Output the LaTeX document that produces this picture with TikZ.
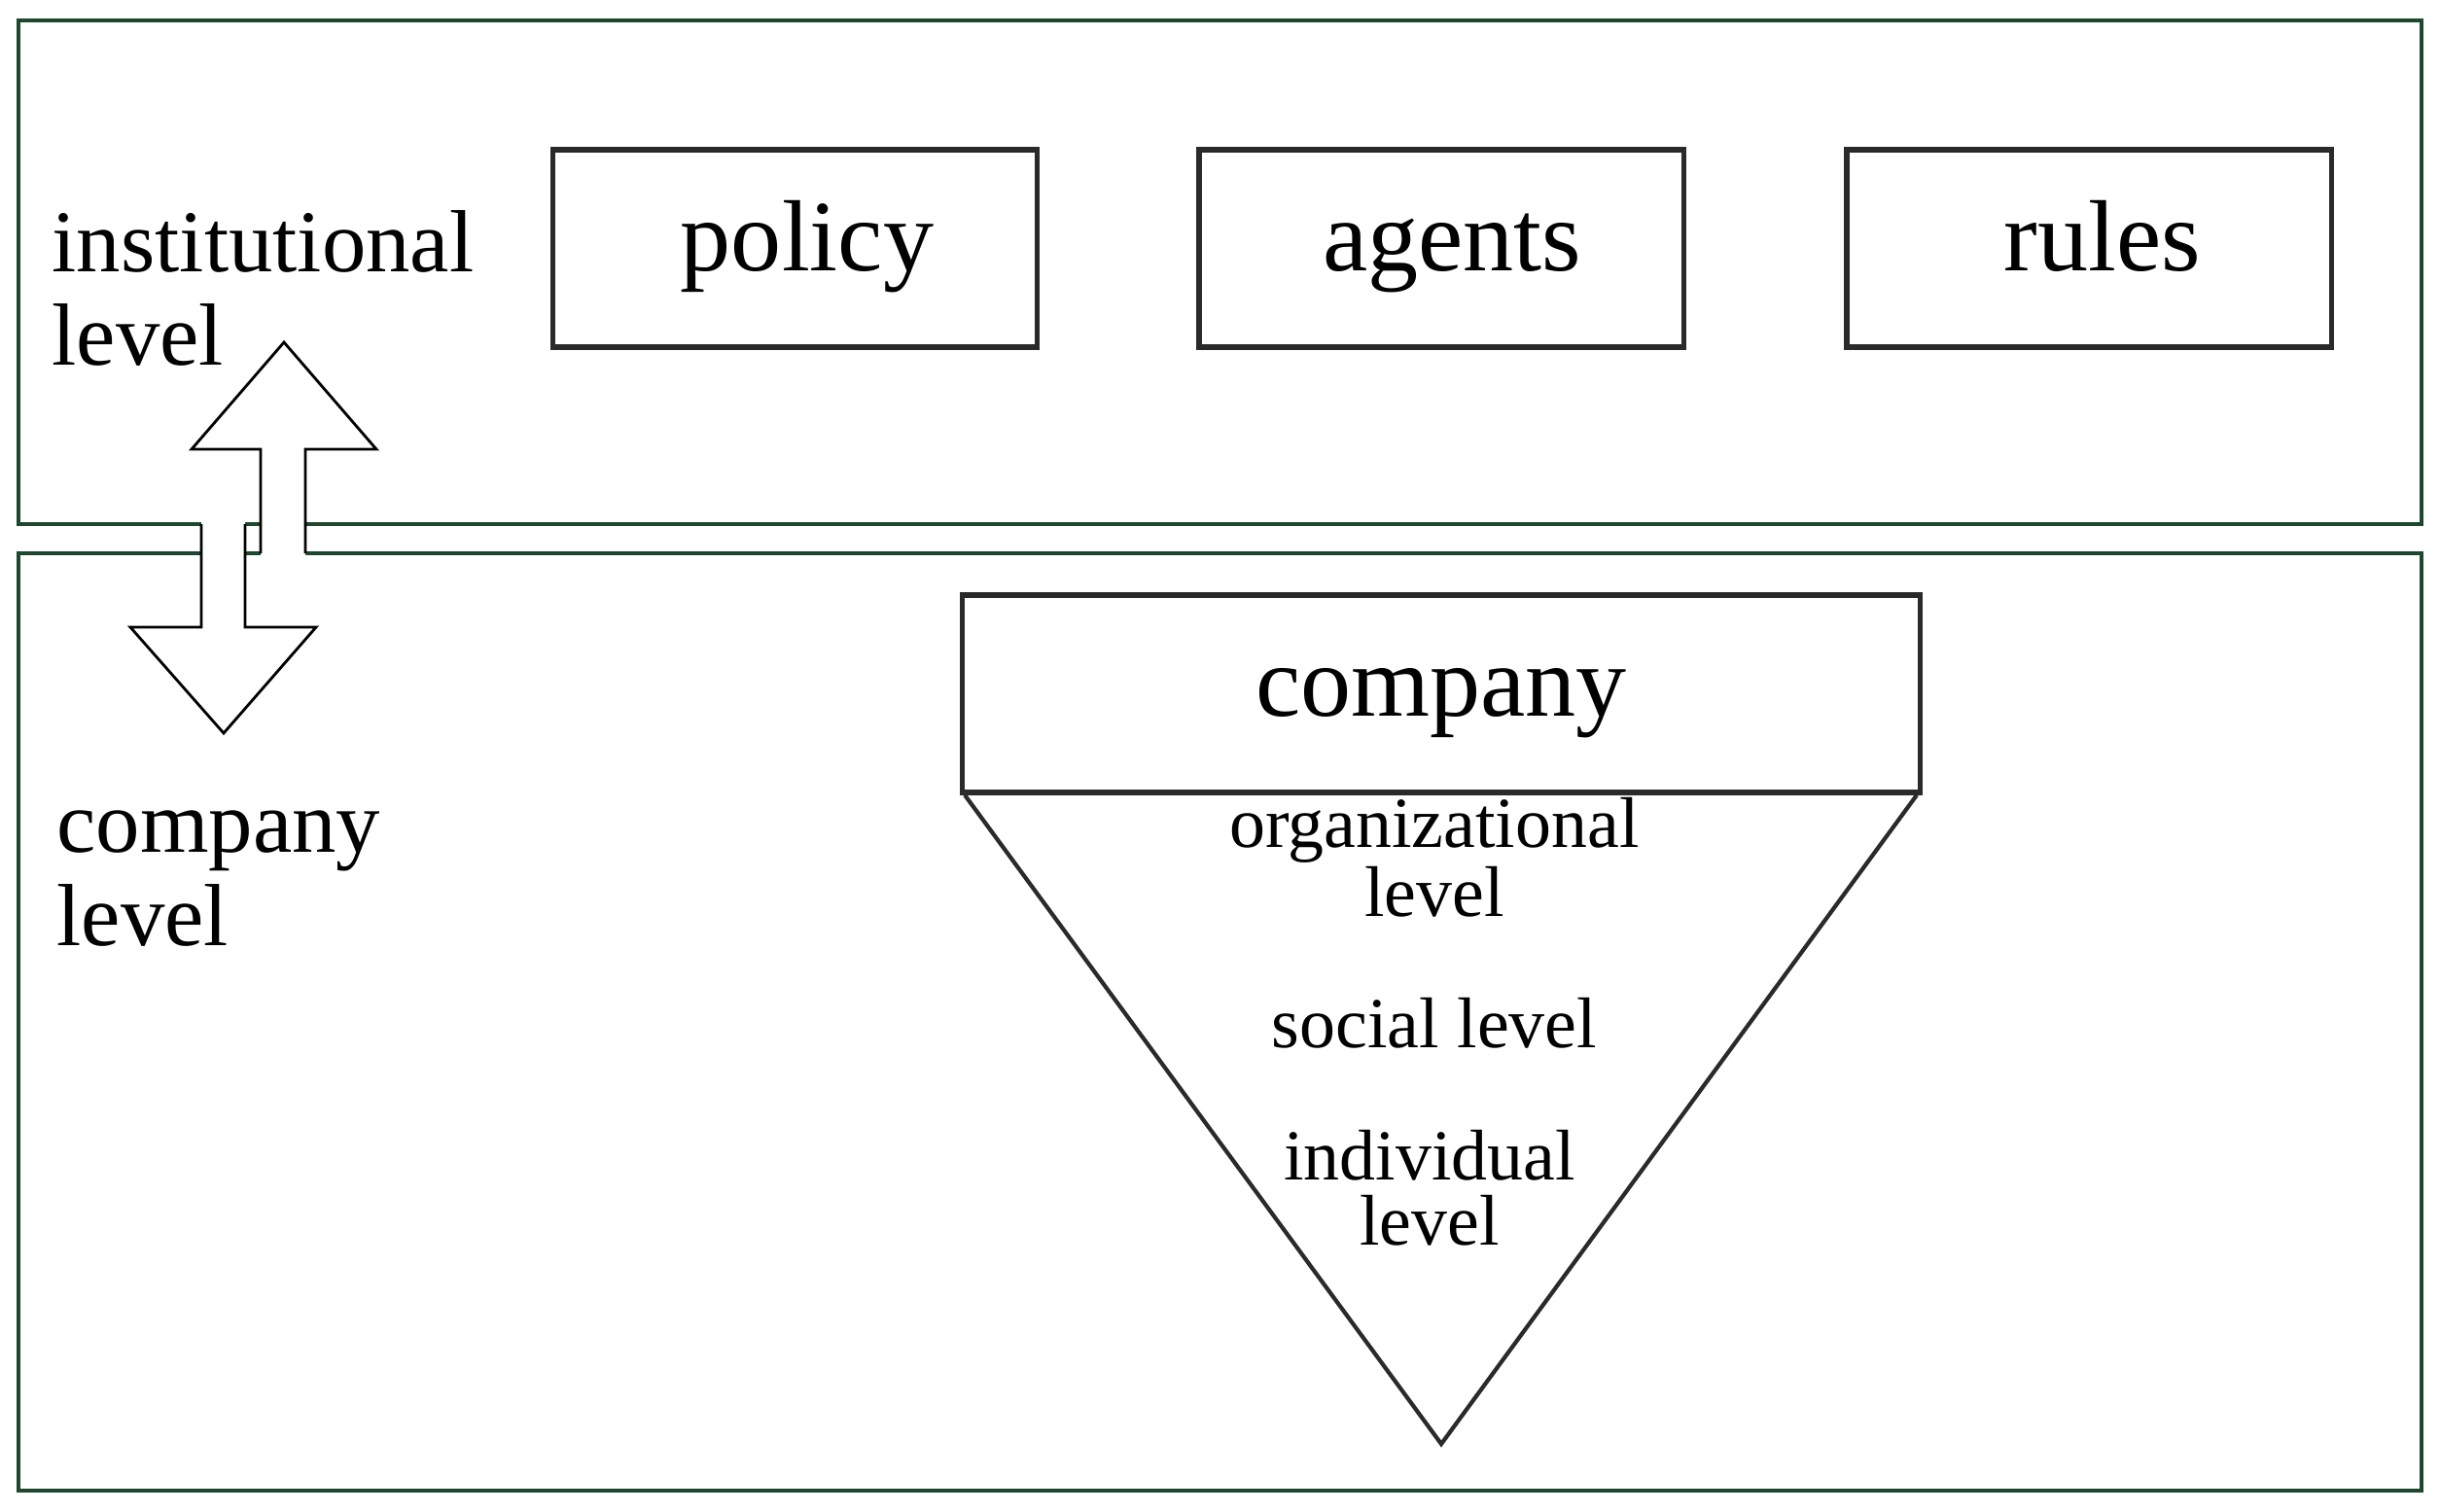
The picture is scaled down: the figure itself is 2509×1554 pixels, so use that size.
\documentclass[tikz,border=0pt]{standalone}
\usepackage{fontspec}
\setmainfont{Liberation Serif}
\definecolor{boxgreen}{RGB}{30,72,46}
\definecolor{boxgray}{RGB}{42,42,42}
\begin{document}
\begin{tikzpicture}[x=0.01cm,y=-0.01cm,
  levelbox/.style={draw=boxgreen, line width=0.9pt},
  ibox/.style={draw=boxgray, line width=1.5pt, fill=white, inner sep=0pt,
    minimum width=4.98cm, minimum height=2.03cm,
    font=\fontsize{29.6}{33}\selectfont, text height=0.72cm, text depth=0.26cm},
  sidelabel/.style={font=\fontsize{25.8}{27.3}\selectfont, align=left, anchor=base west, inner sep=0pt},
  tlabel/.style={font=\fontsize{21}{19}\selectfont, align=center, anchor=base, inner sep=0pt},
  tri/.style={draw=boxgray, line width=1.2pt, line join=miter},
  bigarrow/.style={draw=black, line width=0.8pt, line join=miter},
]
\fill[white] (0,0) rectangle (2509,1554);
\useasboundingbox (0,0) rectangle (2509,1554);
% level containers
\draw[levelbox] (19,21) rectangle (2490,539);
\draw[levelbox] (19,569) rectangle (2490,1533);
% institutional boxes
\node[ibox] (policy) at (817.5,255.5) {\hspace*{0.25cm}policy};
\node[ibox] (agents) at (1482,255.5) {\hspace*{0.22cm}agents};
\node[ibox] (rules) at (2148,255.5) {\hspace*{0.28cm}rules};
% company box and triangle
\node[ibox, minimum width=9.84cm] (company) at (1482,713.5) {company};
\coordinate (apex) at (1482,1485);
\draw[tri] ([xshift=0.05cm]company.south west) -- (apex) -- ([xshift=-0.06cm]company.south east);
\node[tlabel] (org) at (1475,942) {organizational\\level};
\node[tlabel] (soc) at (1475,1077) {social level};
\node[tlabel] (ind) at (1470,1280) {individual\\level};
% side labels (base anchor = last line)
\node[sidelabel] (inst) at (53,375) {institutional\\level};
\node[sidelabel] (comp) at (58,972) {company\\level};
% up arrow
\fill[white] (268,571) -- (268,462) -- (197,462) -- (292,352) -- (387,462) -- (314,462) -- (314,571) -- cycle;
\draw[bigarrow] (268,569) -- (268,462) -- (197,462) -- (292,352) -- (387,462) -- (314,462) -- (314,569);
% down arrow
\fill[white] (207,537) -- (207,645) -- (134,645) -- (230,754) -- (325,645) -- (252,645) -- (252,537) -- cycle;
\draw[bigarrow] (207,539) -- (207,645) -- (134,645) -- (230,754) -- (325,645) -- (252,645) -- (252,539);
\end{tikzpicture}
\end{document}
